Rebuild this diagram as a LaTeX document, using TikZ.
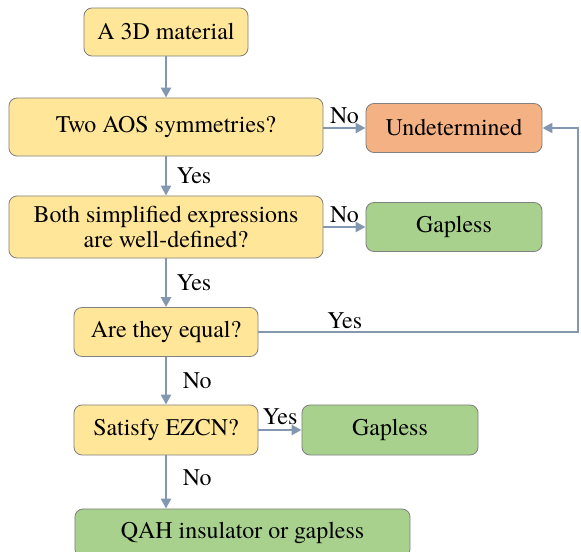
\documentclass[tikz,border=0pt]{standalone}
\usepackage{fontspec}
\setmainfont{TeX Gyre Termes}
\usepackage{xcolor}
\usetikzlibrary{arrows.meta,positioning,calc}
\definecolor{cAsk}{HTML}{FFE699}
\definecolor{cUnd}{HTML}{F4B183}
\definecolor{cRes}{HTML}{A9D18E}
\definecolor{cEdge}{HTML}{808080}
\definecolor{cFlow}{HTML}{8497B0}
\tikzset{
  box/.style   = {rectangle, rounded corners=0.2cm, draw=cEdge, fill=#1, line width=0.6pt,
                  align=center, inner sep=2pt, font=\rmfamily\fontsize{17}{17.5}\selectfont},
  box/.default = cAsk,
  ask/.style   = {box=cAsk},
  und/.style   = {box=cUnd},
  res/.style   = {box=cRes},
  fl/.style    = {-{Triangle[length=7pt,width=7pt]}, draw=cFlow, line width=2pt},
  lab/.style   = {font=\rmfamily\fontsize{17}{17.5}\selectfont, inner sep=1pt},
}

\begin{document}
\begin{tikzpicture}[x=0.025cm, y=-0.025cm]
  \useasboundingbox (0,0) rectangle (581,552);
  \node[ask, minimum width=4.1cm,  minimum height=1.2cm]   (start) at (166,32)   {A 3D material};
  \node[ask, minimum width=7.85cm, minimum height=1.45cm]  (aos)   at (166,127)  {Two AOS symmetries?};
  \node[und, minimum width=4.4cm,  minimum height=1.225cm] (undet) at (454,128)  {Undetermined};
  \node[ask, minimum width=7.85cm, minimum height=1.55cm]  (expr)  at (166,227)  {Both simplified expressions\\are well-defined?};
  \node[res, minimum width=4.4cm,  minimum height=1.225cm] (gapA)  at (454,227)  {Gapless};
  \node[ask, minimum width=4.6cm,  minimum height=1.225cm] (equal) at (166,332)  {Are they equal?};
  \node[ask, minimum width=4.6cm,  minimum height=1.25cm]  (ezcn)  at (166,430)  {Satisfy EZCN?};
  \node[res, minimum width=4.4cm,  minimum height=1.25cm]  (gapB)  at (390,430)  {Gapless};
  \node[res, minimum width=8.375cm, minimum height=1.2cm]  (qah)   at (242.5,533) {QAH insulator or gapless};

  \coordinate (loop) at (578,332);

  \draw[fl] (start) -- (aos);
  \draw[fl] (aos) -- node[lab,right=5.5pt]{Yes} (expr);
  \draw[fl] (expr) -- node[lab,right=5.5pt]{Yes} (equal);
  \draw[fl] (equal) -- node[lab,right=10pt]{No} (ezcn);
  \draw[fl] (ezcn.south) -- node[lab,right=10pt,pos=0.42]{No} (ezcn.south |- qah.north);
  \draw[fl] (aos.east |- undet) -- node[lab,above=1pt]{No} (undet);
  \draw[fl] (expr.east |- gapA) -- node[lab,above=1pt]{No} (gapA);
  \draw[fl] (ezcn) -- node[lab,above=2pt]{Yes} (gapB);
  \draw[fl] (equal) -- node[lab,above=0pt,pos=0.27]{Yes} (loop) |- (undet);
\end{tikzpicture}
\end{document}
